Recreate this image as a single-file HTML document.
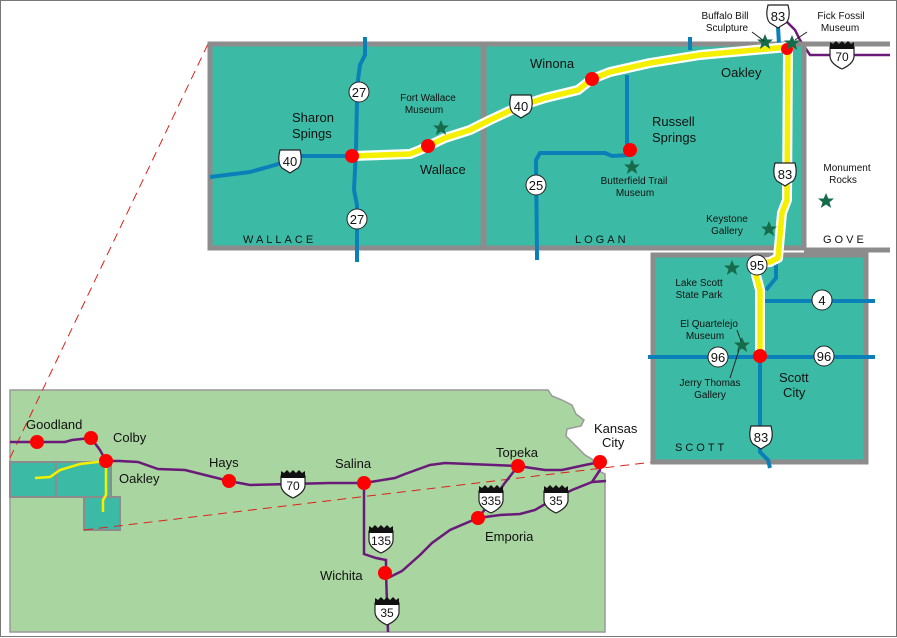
<!DOCTYPE html>
<html><head><meta charset="utf-8"><style>
html,body{margin:0;padding:0;background:#fff}
svg{display:block}
text{font-family:"Liberation Sans",sans-serif;fill:#111}
</style></head><body>
<svg width="897" height="638" viewBox="0 0 897 638" xmlns="http://www.w3.org/2000/svg">
<defs>
<g id="us"><path d="M-10,-11 L10,-11 L11,-6 Q12,3 8,7 Q3,10 0,12 Q-3,10 -8,7 Q-12,3 -11,-6 Z" fill="#fff" stroke="#222" stroke-width="1.2"/></g>
<g id="int"><path d="M-12,-8 L12,-8 L12,2 Q11,9 0,14 Q-11,9 -12,2 Z" fill="#fff" stroke="#222" stroke-width="1.2"/><path d="M-12,-8 L-12,-13 L-9,-11 L-6,-14 L-3,-11 L0,-14 L3,-11 L6,-14 L9,-11 L12,-13 L12,-6 L-12,-6 Z" fill="#111"/></g>
<polygon id="st" points="0,-8 2.3,-2.5 8,-2.5 3.5,1.2 5.2,7 0,3.5 -5.2,7 -3.5,1.2 -8,-2.5 -2.3,-2.5" fill="#166b4a"/>
</defs>
<rect x="0.5" y="0.5" width="896" height="636" fill="#fff" stroke="#777" stroke-width="1"/>
<!-- Kansas -->
<polygon points="10,390 548,390 552,396 562,400 572,405 576,414 584,420 581,426 567,429 566,436 576,446 585,455 592,459 597,470 605,474 605,632 10,632" fill="#a8d5a0" stroke="#999" stroke-width="1.5"/>
<!-- inset counties -->
<g fill="#3bbba5" stroke="#8c8c8c" stroke-width="2">
<rect x="10" y="462" width="46" height="35"/><rect x="56" y="462" width="55" height="35"/><rect x="84" y="497" width="36" height="33"/>
</g>
<polyline points="35,478 50,477 60,470 80,464 106,461" fill="none" stroke="#f5f000" stroke-width="2.5"/>
<polyline points="106,461 106,495 103,500 103,512" fill="none" stroke="#f5f000" stroke-width="2.5"/>
<!-- dashed lines -->
<line x1="208" y1="44" x2="10" y2="458" stroke="#e0201a" stroke-width="1" stroke-dasharray="9,6"/>
<line x1="84" y1="530" x2="653" y2="462" stroke="#e0201a" stroke-width="1" stroke-dasharray="9,6"/>
<!-- interstates -->
<g fill="none" stroke="#6a1a78" stroke-width="2.5">
<polyline points="10,442 37,442 65,442 72,440 91,438 100,450 106,461 120,461 138,462 158,469 185,470 229,481 250,485 290,484 330,483 364,483 395,478 405,474 430,465 445,463 518,466 545,470 562,470 585,465 600,462"/>
<polyline points="364,483 364,554 376,558 386,560 386,573 388,632"/>
<polyline points="388,578 402,571 420,555 432,543 450,530 478,518 500,515 520,514 535,510 552,500 572,490 592,482 600,470 598,462"/>
<polyline points="478,518 486,508 492,502 504,484 518,466"/>
<polyline points="592,482 606,481"/>
<polyline points="783,18 795,30 800,40 810,55 890,55"/>
</g>
<!-- top counties -->
<g stroke="#8c8c8c" stroke-width="5">
<rect x="210" y="44" width="273" height="204" fill="#3bbba5"/>
<rect x="484" y="44" width="320" height="204" fill="#3bbba5"/>
<rect x="653" y="255" width="213" height="207" fill="#3bbba5"/>
<polyline points="804,44 890,44" fill="none"/>
<polyline points="804,250 890,250" fill="none"/>
</g>
<!-- blue roads -->
<g fill="none" stroke="#0b80b8" stroke-width="4">
<polyline points="210,177 250,172 275,165 290,160 300,156 352,156"/>
<polyline points="365,37 365,55 360,65 358,80 357,100 356,150 354,190 357,205 357,235 357,262"/>
<polyline points="537,260 537,255 536,160 540,153 605,153 612,156 630,155"/>
<polyline points="627,150 627,75"/>
<polyline points="690,37 690,50"/>
<polyline points="778,27 779,44"/>
<polyline points="776,262 776,278 766,290"/>
<polyline points="648,357 875,357"/>
<polyline points="765,301 875,301"/>
<polyline points="760,356 760,452 768,460 770,468"/>
</g>
<!-- yellow highlighted -->
<g fill="none" stroke-linejoin="round" stroke-linecap="round">
<polyline points="352,156 410,154 420,150 428,146 445,138 470,130 490,120 520,106 545,98 578,90 592,79 610,72 650,63 700,55 788,47 787,200 782,213 778,258 770,262 759,263 756,275 760,290 760,356" stroke="#fff" stroke-width="10"/>
<polyline points="352,156 410,154 420,150 428,146 445,138 470,130 490,120 520,106 545,98 578,90 592,79 610,72 650,63 700,55 788,47 787,200 782,213 778,258 770,262 759,263 756,275 760,290 760,356" stroke="#f5f000" stroke-width="5.5"/>
</g>
<!-- shields -->
<g font-size="13" text-anchor="middle">
<g transform="translate(359,92)"><circle r="10" fill="#fff" stroke="#222"/><text y="5">27</text></g>
<g transform="translate(357,219)"><circle r="10" fill="#fff" stroke="#222"/><text y="5">27</text></g>
<g transform="translate(536,185)"><circle r="10" fill="#fff" stroke="#222"/><text y="5">25</text></g>
<g transform="translate(822,300)"><circle r="10" fill="#fff" stroke="#222"/><text y="5">4</text></g>
<g transform="translate(718,357)"><circle r="10" fill="#fff" stroke="#222"/><text y="5">96</text></g>
<g transform="translate(824,356)"><circle r="10" fill="#fff" stroke="#222"/><text y="5">96</text></g>
<g transform="translate(757,265)"><circle r="10" fill="#fff" stroke="#222"/><text y="5">95</text></g>
<g transform="translate(290,161)"><use href="#us"/><text y="5">40</text></g>
<g transform="translate(521,106)"><use href="#us"/><text y="5">40</text></g>
<g transform="translate(785,174)"><use href="#us"/><text y="5">83</text></g>
<g transform="translate(778,16)"><use href="#us"/><text y="5">83</text></g>
<g transform="translate(761,437)"><use href="#us"/><text y="5">83</text></g>
<g transform="translate(842,55)"><use href="#int"/><text y="6" font-size="12">70</text></g>
<g transform="translate(293,484)"><use href="#int"/><text y="6" font-size="12">70</text></g>
<g transform="translate(491,499)"><use href="#int"/><text y="6" font-size="12">335</text></g>
<g transform="translate(556,499)"><use href="#int"/><text y="6" font-size="12">35</text></g>
<g transform="translate(381,539)"><use href="#int"/><text y="6" font-size="12">135</text></g>
<g transform="translate(387,611)"><use href="#int"/><text y="6" font-size="12">35</text></g>
</g>
<!-- dots -->
<g fill="#f00">
<circle cx="352" cy="156" r="7"/><circle cx="428" cy="146" r="7"/><circle cx="592" cy="79" r="7"/><circle cx="630" cy="150" r="7"/><circle cx="787" cy="49" r="6"/><circle cx="760" cy="356" r="7"/>
<circle cx="37" cy="442" r="7"/><circle cx="91" cy="438" r="7"/><circle cx="106" cy="461" r="7"/><circle cx="229" cy="481" r="7"/><circle cx="364" cy="483" r="7"/><circle cx="518" cy="466" r="7"/><circle cx="600" cy="462" r="7"/><circle cx="478" cy="518" r="7"/><circle cx="385" cy="573" r="7"/>
</g>
<!-- stars -->
<use href="#st" x="441" y="128"/><use href="#st" x="632" y="167"/><use href="#st" x="765" y="42"/><use href="#st" x="792" y="43"/><use href="#st" x="826" y="201"/><use href="#st" x="769" y="229"/><use href="#st" x="732" y="268"/><use href="#st" x="742" y="345"/>
<g stroke="#222" stroke-width="1" fill="none">
<line x1="752" y1="32" x2="764" y2="41"/><line x1="807" y1="32" x2="795" y2="40"/>
<line x1="737" y1="330" x2="741" y2="341"/><line x1="739" y1="350" x2="730" y2="378"/>
</g>
<!-- labels -->
<g font-size="13">
<text x="292" y="122">Sharon</text><text x="292" y="138">Spings</text>
<text x="420" y="174">Wallace</text>
<text x="530" y="68">Winona</text>
<text x="721" y="77">Oakley</text>
<text x="652" y="126">Russell</text><text x="652" y="142">Springs</text>
<text x="779" y="382">Scott</text><text x="783" y="397">City</text>
<text x="26" y="429">Goodland</text>
<text x="113" y="442">Colby</text>
<text x="119" y="483">Oakley</text>
<text x="209" y="467">Hays</text>
<text x="335" y="468">Salina</text>
<text x="496" y="457">Topeka</text>
<text x="594" y="433">Kansas</text><text x="602" y="447">City</text>
<text x="485" y="541">Emporia</text>
<text x="320" y="580">Wichita</text>
</g>
<g font-size="10" text-anchor="middle">
<text x="428" y="101">Fort Wallace</text><text x="424" y="113">Museum</text>
<text x="634" y="184">Butterfield Trail</text><text x="635" y="196">Museum</text>
<text x="725" y="19">Buffalo Bill</text><text x="727" y="31">Sculpture</text>
<text x="841" y="19">Fick Fossil</text><text x="840" y="31">Museum</text>
<text x="847" y="171">Monument</text><text x="843" y="183">Rocks</text>
<text x="727" y="222">Keystone</text><text x="727" y="234">Gallery</text>
<text x="699" y="286">Lake Scott</text><text x="699" y="298">State Park</text>
<text x="709" y="327">El Quartelejo</text><text x="705" y="339">Museum</text>
<text x="710" y="386">Jerry Thomas</text><text x="710" y="398">Gallery</text>
</g>
<g font-size="11" letter-spacing="3">
<text x="243" y="243">WALLACE</text>
<text x="575" y="243">LOGAN</text>
<text x="823" y="243">GOVE</text>
<text x="675" y="451">SCOTT</text>
</g>
</svg>
</body></html>
